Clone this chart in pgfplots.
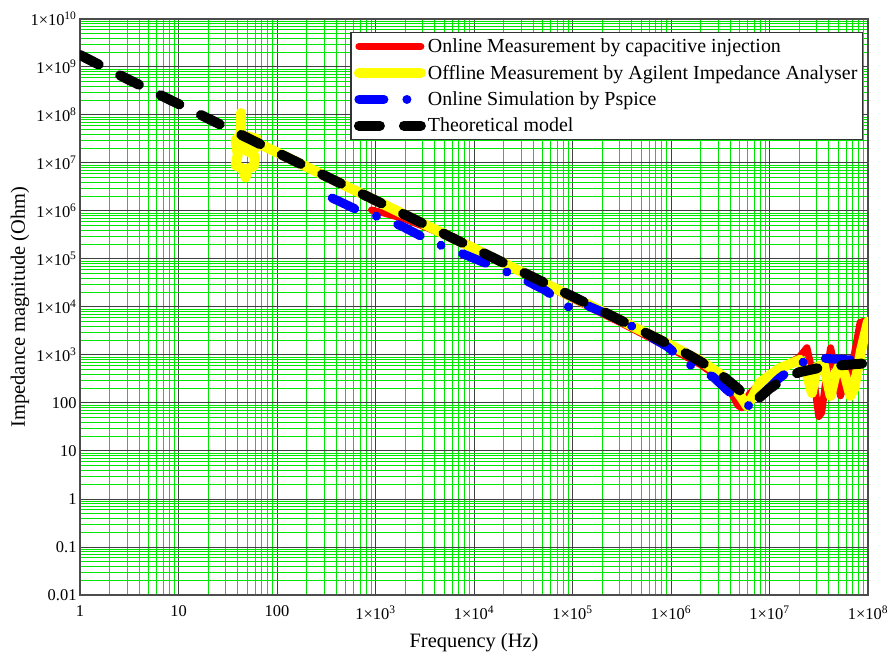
\documentclass[border=0pt]{standalone}
\usepackage{pgfplots}
\pgfplotsset{compat=1.18}
\usepackage{fontspec}
\setmainfont{Liberation Serif}
\definecolor{gridgreen}{RGB}{0,230,0}
\definecolor{ylw}{RGB}{255,255,0}
\definecolor{rd}{RGB}{255,0,0}
\definecolor{bl}{RGB}{0,0,255}
\begin{document}
\begin{tikzpicture}
\begin{axis}[
  scale only axis, width=788bp, height=576bp,
  xmode=log, ymode=log, xmin=1, xmax=1e8, ymin=1e-2, ymax=1e10,
  xtick={1,10,100,1e3,1e4,1e5,1e6,1e7,1e8},
  xticklabels={1,10,100,1×10\textsuperscript{3},1×10\textsuperscript{4},1×10\textsuperscript{5},1×10\textsuperscript{6},1×10\textsuperscript{7},1×10\textsuperscript{8}},
  ytick={1e-2,1e-1,1,10,100,1e3,1e4,1e5,1e6,1e7,1e8,1e9,1e10},
  yticklabels={0.01,0.1,1,10,100,1×10\textsuperscript{3},1×10\textsuperscript{4},1×10\textsuperscript{5},1×10\textsuperscript{6},1×10\textsuperscript{7},1×10\textsuperscript{8},1×10\textsuperscript{9},1×10\textsuperscript{10}},
  minor xtick={2,3,4,5,6,7,8,9,20,30,40,50,60,70,80,90,200,300,400,500,600,700,800,900,2e3,3e3,4e3,5e3,6e3,7e3,8e3,9e3,2e4,3e4,4e4,5e4,6e4,7e4,8e4,9e4,2e5,3e5,4e5,5e5,6e5,7e5,8e5,9e5,2e6,3e6,4e6,5e6,6e6,7e6,8e6,9e6,2e7,3e7,4e7,5e7,6e7,7e7,8e7,9e7},
  minor ytick={2e-2,3e-2,4e-2,5e-2,6e-2,7e-2,8e-2,9e-2,0.2,0.3,0.4,0.5,0.6,0.7,0.8,0.9,2,3,4,5,6,7,8,9,20,30,40,50,60,70,80,90,200,300,400,500,600,700,800,900,2e3,3e3,4e3,5e3,6e3,7e3,8e3,9e3,2e4,3e4,4e4,5e4,6e4,7e4,8e4,9e4,2e5,3e5,4e5,5e5,6e5,7e5,8e5,9e5,2e6,3e6,4e6,5e6,6e6,7e6,8e6,9e6,2e7,3e7,4e7,5e7,6e7,7e7,8e7,9e7,2e8,3e8,4e8,5e8,6e8,7e8,8e8,9e8,2e9,3e9,4e9,5e9,6e9,7e9,8e9,9e9},
  grid=both,
  major grid style={draw=black!75, line width=1bp},
  minor grid style={draw=gridgreen, line width=0.9bp},
  axis line style={draw=black!70, line width=1.2bp},
  tick style={draw=none},
  major tick length=0pt, minor tick length=0pt,
  ticklabel style={font=\fontsize{16.5}{16.5}\selectfont},
  xticklabel style={yshift=-7bp},
  xlabel={Frequency (Hz)}, ylabel={Impedance magnitude (Ohm)},
  label style={font=\fontsize{20.5}{20.5}\selectfont},
  xlabel style={at={(axis description cs:0.5,-0.082)},anchor=center},
  ylabel style={at={(axis description cs:-0.0762,0.5)},anchor=center},
  legend cell align=left,
  legend style={at={(0.9937,0.977)}, anchor=north east, font=\fontsize{20}{22}\selectfont, draw=black!80, line width=1.2bp, fill=white, inner xsep=3bp, inner ysep=4bp, row sep=7bp},
  legend image code/.code={\draw[#1] (0bp,0bp) -- (62bp,0bp);},
  every axis plot/.append style={line cap=round, line join=round, mark=none},
]
% Online Measurement by capacitive injection (red)
\addplot[rd, line width=7bp] coordinates {
(912,1.047e6) (1259,8.913e5) (1995,6.761e5) (3162,4.677e5) (5012,3.162e5)
(1e4,1.660e5) (1.995e4,8.318e4) (3.981e4,3.981e4) (1e5,1.479e4) (3.162e5,4.571e3)
(1e6,1.349e3) (1.995e6,631) (3.162e6,316.2) (3.981e6,177.8) (4.786e6,89.1)
(5.248e6,79.4) (6.310e6,158.5) (1e7,398.1) (1.585e7,676.1) (1.995e7,891.3)
(2.399e7,1413) (2.818e7,316.2) (3.162e7,52.48) (3.388e7,63.1) (3.802e7,398.1)
(4.169e7,1413) (4.786e7,398.1) (5.248e7,141.3) (6.026e7,316.2) (7.244e7,1000)
(8.318e7,4786) (9.120e7,5012) (9.772e7,1995)
};
\addlegendentry{Online Measurement by capacitive injection}
% Offline Measurement by Agilent Impedance Analyser (yellow)
\addplot[ylw, line width=10bp] coordinates {
(43,1.1e8) (43,4e7) (38,3e7) (40,1.5e7) (38,9e6) (45,7.5e6) (48,5e6) (50,7.5e6)
(58,8.5e6) (60,1.3e7) (52,2e7) (62,3.2e7) (50,3.6e7) (45,2e7) (55,1.6e7) (63,2.4e7)
(72.44,2.291e7) (100,1.660e7) (1000,1.660e6)
(1e4,1.660e5) (1e5,1.622e4) (3.162e5,5.129e3) (1e6,1.585e3) (1.995e6,758.6)
(3.162e6,398.1) (4.467e6,199.5) (5.248e6,125.9) (5.888e6,87.1) (6.607e6,125.9)
(7.943e6,263) (1.259e7,524.8) (2.042e7,794.3) (2.399e7,398.1) (2.692e7,162.2)
(3.020e7,562.3) (3.548e7,631) (4.169e7,141.3) (4.677e7,398.1) (5.248e7,676.1)
(5.888e7,354.8) (6.607e7,141.3) (7.244e7,199.5) (8.511e7,1259) (1e8,5012)
};
\addlegendentry{Offline Measurement by Agilent Impedance Analyser}
% Online Simulation by Pspice (blue)
\addplot[bl, line width=9bp, dash pattern=on 25bp off 23bp on 0.01bp off 23bp] coordinates {
(363.1,1.862e6) (724.4,9.550e5) (1202,7.079e5) (1905,4.677e5) (3802,2.239e5)
(6166,1.549e5) (9772,1.047e5) (1.950e4,5.888e4) (3.311e4,3.631e4) (5.248e4,2.239e4)
(1.072e5,7.943e3) (1.413e5,1.072e4) (3.162e5,5.248e3) (9.120e5,1.514e3) (1.445e6,676.1)
(2.692e6,346.7) (3.715e6,186.2) (5.012e6,114.8) (6.310e6,85.1) (7.943e6,131.8)
(1.259e7,331.1) (1.738e7,537) (2.239e7,724.4) (3.020e7,871) (6.166e7,794.3) (1e8,794.3)
};
\addlegendentry{Online Simulation by Pspice}
% Theoretical model (black)
\addplot[black, line width=10bp, dash pattern=on 21bp off 24bp] coordinates {
(1,1.778e9) (3.162,5.370e8) (10,1.698e8) (100,1.660e7) (1000,1.660e6)
(1e4,1.660e5) (1e5,1.660e4) (3.162e5,5.129e3) (1e6,1.585e3) (1.585e6,955)
(2.512e6,549.5) (3.548e6,331.1) (4.467e6,223.9) (5.623e6,147.9) (6.607e6,112.2)
(7.943e6,131.8) (1e7,199.5) (1.349e7,302) (1.995e7,436.5) (3.162e7,537)
(5.623e7,616.6) (1e8,676.1)
};
\addlegendentry{Theoretical model}
\end{axis}
\pgfresetboundingbox
\path[use as bounding box] (-80bp,-62bp) rectangle (812bp,595bp);
\end{tikzpicture}
\end{document}
